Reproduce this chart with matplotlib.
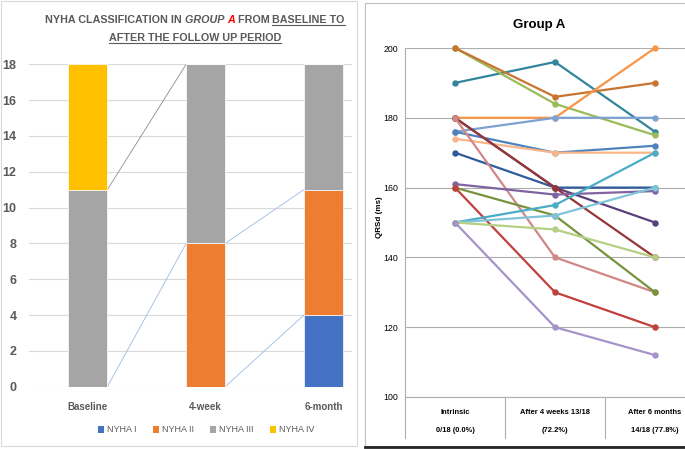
import matplotlib
matplotlib.use('Agg')
import matplotlib.pyplot as plt
from matplotlib.patches import Rectangle, Patch
from matplotlib.lines import Line2D
from matplotlib import font_manager
import numpy as np

# ---------------- data: left chart (NYHA class counts) ----------------
stages = ['Baseline', '4-week', '6-month']
nyha_names = ['NYHA I', 'NYHA II', 'NYHA III', 'NYHA IV']
nyha_1 = [0, 0, 4]
nyha_2 = [0, 8, 7]
nyha_3 = [11, 10, 7]
nyha_4 = [7, 0, 0]
left_yticks = [0, 2, 4, 6, 8, 10, 12, 14, 16, 18]

# ---------------- data: right chart (QRSd per patient) ----------------
time_labels_top = ['Intrinsic', 'After 4 weeks 13/18', 'After 6 months']
time_labels_bottom = ['0/18 (0.0%)', '(72.2%)', '14/18 (77.8%)']
qrs_intrinsic = [190, 200, 200, 180, 176, 176, 174, 170, 180, 180, 180, 161, 160, 160, 150, 150, 150, 150]
qrs_4weeks    = [196, 184, 186, 180, 180, 170, 170, 160, 160, 160, 140, 158, 152, 130, 155, 152, 148, 120]
qrs_6months   = [176, 175, 190, 200, 180, 172, 170, 160, 150, 140, 130, 159, 130, 120, 170, 160, 140, 112]
right_yticks = [100, 120, 140, 160, 180, 200]

# ---------------- styles ----------------
W, H = 685, 449
avail = {f.name for f in font_manager.fontManager.ttflist}
NARROW = 'Liberation Sans Narrow' if 'Liberation Sans Narrow' in avail else 'Liberation Sans'
FAM = [NARROW, 'DejaVu Sans']
GRAYTXT = '#595959'
bar_colors = ['#4472C4', '#ED7D31', '#A5A5A5', '#FFC000']
series_line_colors = ['#9DB9E6', '#9DB9E6', '#8C8C8C', '#9DB9E6']
patient_colors = ['#31859C', '#9BBB59', '#C8742F', '#F79646', '#7EA1D4', '#4F81BD',
                  '#FAB58A', '#2F5B9A', '#5B3F7A', '#953735', '#D08886', '#8064A2',
                  '#77933C', '#C0403C', '#4BACC6', '#7FC4D9', '#B5CF84', '#A593C9']

def fx(px):
    return px / W

def fy(py):
    return 1 - py / H

fig = plt.figure(figsize=(W / 100, H / 100), dpi=100)
fig.patch.set_facecolor('white')
renderer = fig.canvas.get_renderer()

# ---------------- left chart ----------------
ax1 = fig.add_axes([fx(29), fy(386.7), (352 - 29) / W, (386.7 - 64.3) / H])
x = np.arange(len(stages))
bw = 0.331
series = [nyha_1, nyha_2, nyha_3, nyha_4]
bottom = np.zeros(len(stages))
tops = []
for vals, col, name in zip(series, bar_colors, nyha_names):
    vals = np.array(vals, dtype=float)
    ax1.bar(x, vals, bw, bottom=bottom, color=col, edgecolor='white', linewidth=0.5, label=name, zorder=3)
    bottom = bottom + vals
    tops.append(bottom.copy())

# series lines (connect each series' top between consecutive bars)
for top, lc in zip(tops, series_line_colors):
    for i in range(len(stages) - 1):
        if top[i] != top[i + 1]:
            ax1.plot([x[i] + bw / 2, x[i + 1] - bw / 2], [top[i], top[i + 1]],
                     color=lc, lw=0.6, zorder=2)

ax1.set_xlim(-0.5, 2.243)
ax1.set_ylim(0, 18)
ax1.set_yticks(left_yticks)
ax1.set_xticks(x)
ax1.set_xticklabels(stages)
ax1.grid(axis='y', color='#D9D9D9', lw=0.8, zorder=0)
ax1.set_axisbelow(True)
for s in ax1.spines.values():
    s.set_visible(False)
ax1.tick_params(axis='both', length=0)
ax1.tick_params(axis='y', pad=9)
ax1.tick_params(axis='x', pad=11)
for lab in ax1.get_yticklabels():
    lab.set_family(FAM); lab.set_fontsize(9); lab.set_fontweight('bold'); lab.set_color(GRAYTXT)
for lab in ax1.get_xticklabels():
    lab.set_family(FAM); lab.set_fontsize(7); lab.set_fontweight('bold'); lab.set_color(GRAYTXT)

handles = [Patch(facecolor=c, edgecolor='none') for c in bar_colors]
leg = fig.legend(handles, nyha_names, loc='center', bbox_to_anchor=(fx(206), fy(430)),
                 ncol=4, frameon=False, handlelength=0.7, handleheight=0.7,
                 handletextpad=0.3, columnspacing=1.8, prop={'family': FAM, 'size': 6.5})
for t in leg.get_texts():
    t.set_color(GRAYTXT)

# left title with mixed styles
def measure(s, size, style='normal'):
    t = fig.text(0, 0, s, fontsize=size, fontweight='bold', fontstyle=style, family=FAM)
    w = t.get_window_extent(renderer=renderer).width
    t.remove()
    return w

TSIZE = 9.4 * 296.0 / measure('NYHA CLASSIFICATION IN GROUP A FROM BASELINE TO', 9.4)

def place_line(pieces, cx, base_y):
    objs = []
    widths = []
    for s, style, col, ul in pieces:
        t = fig.text(0, 0, s, fontsize=TSIZE, fontweight='bold', fontstyle=style,
                     color=col, family=FAM, ha='left', va='baseline')
        widths.append(t.get_window_extent(renderer=renderer).width)
        objs.append(t)
    total = sum(widths)
    xc = cx - total / 2
    for (s, style, col, ul), t, w in zip(pieces, objs, widths):
        t.set_position((fx(xc), fy(base_y)))
        if ul:
            fig.add_artist(Line2D([fx(xc), fx(xc + w)], [fy(base_y + 2), fy(base_y + 2)],
                                  color=GRAYTXT, lw=0.8))
        xc += w

place_line([('NYHA CLASSIFICATION IN ', 'normal', GRAYTXT, False),
            ('GROUP ', 'italic', GRAYTXT, False),
            ('A', 'italic', '#FF0000', False),
            (' FROM ', 'normal', GRAYTXT, False),
            ('BASELINE TO', 'normal', GRAYTXT, True)], 195, 22.7)
place_line([('AFTER THE FOLLOW UP PERIOD', 'normal', GRAYTXT, True)], 195, 40.7)

# left chart frame
fig.add_artist(Rectangle((fx(1), fy(446)), (357 - 1) / W, (446 - 1) / H, transform=fig.transFigure,
                         fill=False, edgecolor='#D9D9D9', lw=0.8))

# ---------------- right chart ----------------
ax2 = fig.add_axes([fx(405), fy(397), (W - 405) / W, (397 - 48) / H])
xt = np.arange(len(time_labels_top))
for a, b, c, col in zip(qrs_intrinsic, qrs_4weeks, qrs_6months, patient_colors):
    ax2.plot(xt, [a, b, c], color=col, lw=1.6, marker='o', markersize=3.6,
             markeredgecolor=col, markerfacecolor=col, zorder=3, clip_on=False)
ax2.set_xlim(-0.5, 2.3)
ax2.set_ylim(100, 200)
ax2.set_yticks(right_yticks)
ax2.set_xticks([])
ax2.grid(axis='y', color='#ADADAD', lw=0.8, zorder=0)
ax2.spines['top'].set_visible(False)
ax2.spines['right'].set_visible(False)
ax2.spines['left'].set_color('#ADADAD')
ax2.spines['bottom'].set_color('#ADADAD')
ax2.spines['left'].set_linewidth(0.8)
ax2.spines['bottom'].set_linewidth(0.8)
ax2.tick_params(axis='y', length=0, pad=5)
for lab in ax2.get_yticklabels():
    lab.set_family(FAM); lab.set_fontsize(6.3); lab.set_color('black')

# category table below the axis
tr = ax2.get_xaxis_transform()
for xb in [-0.5, 0.5, 1.5]:
    ax2.plot([xb, xb], [0, -(438 - 397) / 349], color='#ADADAD', lw=0.8, transform=tr, clip_on=False)
for i, (t1, t2) in enumerate(zip(time_labels_top, time_labels_bottom)):
    ax2.text(xt[i], -(413 - 397) / 349, t1, transform=tr, ha='center', va='center',
             family=FAM, fontsize=5.4, fontweight='bold', color='black')
    ax2.text(xt[i], -(431 - 397) / 349, t2, transform=tr, ha='center', va='center',
             family=FAM, fontsize=5.4, fontweight='bold', color='black')

fig.text(fx(539.5), fy(25), 'Group A', ha='center', va='center', family=FAM,
         fontsize=9.5, fontweight='bold', color='black')
fig.text(fx(379.5), fy(216.7), 'QRSd (ms)', ha='center', va='center', rotation=90,
         family=FAM, fontsize=5.8, fontweight='bold', color='black')

# right panel frame
fig.add_artist(Rectangle((fx(365), fy(446)), (W + 5 - 365) / W, (446 - 3) / H, transform=fig.transFigure,
                         fill=False, edgecolor='#BFBFBF', lw=0.8))
fig.add_artist(Line2D([fx(365), fx(W)], [fy(447), fy(447)], color='#262626', lw=2))

fig.savefig('out.png', dpi=100)
